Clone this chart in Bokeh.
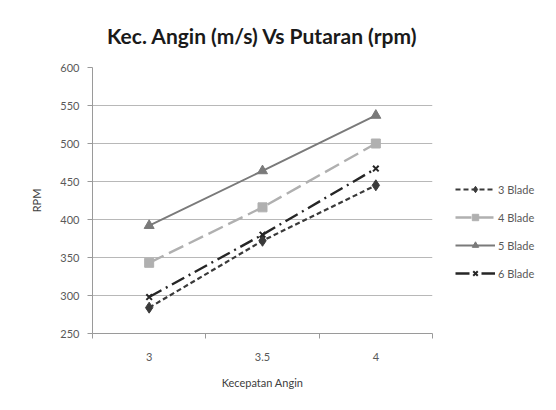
from bokeh.plotting import figure
from bokeh.models import (ColumnDataSource, Range1d, FixedTicker, Legend, LegendItem)
from bokeh.embed import file_html
from bokeh.resources import INLINE

# ---- data ----
speeds = ["3", "3.5", "4"]
blade3 = [284, 372, 445]
blade4 = [343, 416, 500]
blade5 = [392, 464, 537]
blade6 = [298, 380, 467]
series_names = ["3 Blade", "4 Blade", "5 Blade", "6 Blade"]
y_ticks = [250, 300, 350, 400, 450, 500, 550, 600]

FONT = "Lato"
xpos = [i + 0.5 for i in range(len(speeds))]

p = figure(frame_width=340, frame_height=266, output_backend="svg",
           toolbar_location=None, x_range=Range1d(0, len(speeds)),
           y_range=Range1d(250, 600),
           min_border_left=92, min_border_right=0,
           min_border_top=67, min_border_bottom=77)
p.background_fill_color = "white"
p.border_fill_color = "white"
p.outline_line_color = None

p.title.text = "Kec. Angin (m/s) Vs Putaran (rpm)"
p.title.text_font = FONT
p.title.text_font_size = "21px"
p.title.text_font_style = "bold"
p.title.text_color = "#1a1a1a"
p.title.align = "center"
p.title.vertical_align = "top"
p.title.standoff = 36

# x axis
p.xaxis.ticker = FixedTicker(ticks=xpos, minor_ticks=list(range(len(speeds) + 1)))
p.xaxis.major_label_overrides = {x: s for x, s in zip(xpos, speeds)}
p.xaxis.major_tick_out = 0
p.xaxis.major_tick_in = 0
p.xaxis.minor_tick_out = 5
p.xaxis.minor_tick_in = 0
p.xaxis.axis_label = "Kecepatan Angin"

# y axis
p.yaxis.ticker = FixedTicker(ticks=y_ticks)
p.yaxis.major_tick_out = 5
p.yaxis.major_tick_in = 0
p.yaxis.minor_tick_out = 0
p.yaxis.minor_tick_in = 0
p.yaxis.axis_label = "RPM"

for ax in (p.xaxis[0], p.yaxis[0]):
    ax.axis_line_color = "#9a9a9a"
    ax.major_tick_line_color = "#9a9a9a"
    ax.minor_tick_line_color = "#9a9a9a"
    ax.major_label_text_font = FONT
    ax.major_label_text_font_size = "11px"
    ax.major_label_text_color = "#595959"
    ax.axis_label_text_font = FONT
    ax.axis_label_text_font_size = "11px"
    ax.axis_label_text_font_style = "normal"
    ax.axis_label_text_color = "#404040"
p.yaxis.major_label_standoff = 8
p.xaxis.major_label_standoff = 14
p.xaxis.axis_label_standoff = 12
p.yaxis.axis_label_standoff = 14

p.xgrid.grid_line_color = None
p.ygrid.grid_line_color = "#b8b8b8"
p.ygrid.grid_line_width = 1

styles = [
    (blade3, "#3a3a3a", "5 3", 2.2, "diamond", 11),
    (blade4, "#b0b0b0", "16 6", 2.4, "square", 9),
    (blade5, "#7a7a7a", "solid", 2.0, "triangle", 10),
    (blade6, "#262626", "14 5 2 5", 2.4, "x", 8),
]

items = []
for name, (vals, col, dash, w, mk, sz) in zip(series_names, styles):
    src = ColumnDataSource(dict(x=xpos, y=vals))
    r1 = p.line("x", "y", source=src, line_color=col, line_dash=dash, line_width=w)
    r2 = p.scatter("x", "y", source=src, marker=mk, size=sz, fill_color=col,
                   line_color=col, line_width=2 if mk == "x" else 1)
    items.append(LegendItem(label=name, renderers=[r1, r2]))

legend = Legend(items=items, location=(23, 52))
legend.label_text_font = FONT
legend.label_text_font_size = "11px"
legend.label_text_color = "#595959"
legend.glyph_width = 40
legend.glyph_height = 16
legend.spacing = 12
legend.label_standoff = 3
legend.padding = 2
legend.margin = 0
legend.border_line_color = None
legend.background_fill_alpha = 0
p.add_layout(legend, "right")

open("out.html", "w").write(file_html(p, INLINE))
